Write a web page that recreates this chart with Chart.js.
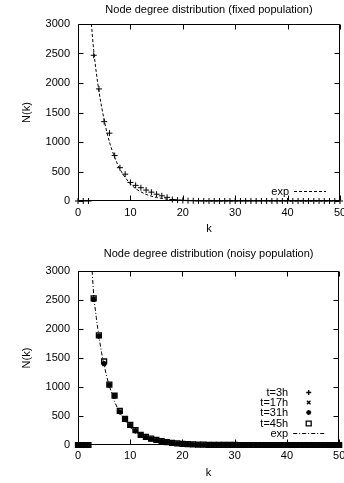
<!DOCTYPE html>
<html>
<head>
<meta charset="utf-8">
<title>Node degree distribution</title>
<script src="https://cdn.jsdelivr.net/npm/chart.js@4.4.1/dist/chart.umd.min.js"></script>
<style>
  body { margin: 0; background: #fff; }
  canvas { position: absolute; left: 0; }
  #fixedChart { top: 0; }
  #noisyChart { top: 240px; }
</style>
</head>
<body>
<canvas id="fixedChart" width="344" height="240"></canvas>
<canvas id="noisyChart" width="344" height="243"></canvas>
<script>
// degree values k (x axis)
const degrees = [0, 1, 2, 3, 4, 5, 6, 7, 8, 9, 10, 11, 12, 13, 14, 15, 16, 17, 18, 19, 20,
  21, 22, 23, 24, 25, 26, 27, 28, 29, 30, 31, 32, 33, 34, 35, 36, 37, 38, 39, 40,
  41, 42, 43, 44, 45, 46, 47, 48, 49, 50];

const xTicks = [0, 10, 20, 30, 40, 50];
const yTicks = [0, 500, 1000, 1500, 2000, 2500, 3000];

// fixed population
const fixedCounts = [0, 0, 0, 2470, 1900, 1345, 1150, 770, 565, 455, 315, 265, 225, 185, 150, 115, 88, 62, 25, 15, 10,
  6, 4, 2, 1, 0, 0, 0, 0, 0, 0, 0, 0, 0, 0, 0, 0, 0, 0, 0, 0,
  0, 0, 0, 0, 0, 0, 0, 0, 0, 0];
const fixedExpK = [2.55, 3, 3.5, 4, 4.5, 5, 5.5, 6, 7, 8, 9, 10, 11, 12, 13, 14, 15, 16, 18, 20, 22, 25, 30, 40, 50];
const fixedExpN = [3000, 2550, 2170, 1860, 1600, 1370, 1170, 1000, 740, 540, 400, 290, 210, 155, 112, 82, 60, 44, 23, 12, 6, 2, 0.4, 0, 0];

// noisy population, one series per snapshot
const noisyLabels = ['t=3h', 't=17h', 't=31h', 't=45h'];
const noisyStyles = ['cross', 'crossRot', 'star', 'rect'];
const counts3h = [0, 0, 0, 2510, 1870, 1400, 1030, 840, 570, 440, 330, 245, 170, 135, 105, 85, 62, 46, 34, 25, 18,
  13, 9, 7, 5, 4, 3, 2, 2, 1, 1, 0, 0, 0, 0, 0, 0, 0, 0, 0, 0,
  0, 0, 0, 0, 0, 0, 0, 0, 0, 0];
const counts17h = [0, 0, 0, 2500, 1880, 1390, 1040, 850, 580, 450, 335, 250, 175, 130, 100, 82, 60, 44, 33, 24, 17,
  12, 9, 6, 5, 3, 3, 2, 1, 1, 1, 0, 0, 0, 0, 0, 0, 0, 0, 0, 0,
  0, 0, 0, 0, 0, 0, 0, 0, 0, 0];
const counts31h = [0, 0, 0, 2520, 1885, 1405, 1035, 845, 575, 445, 340, 240, 168, 132, 108, 84, 64, 47, 35, 26, 19,
  14, 10, 7, 5, 4, 3, 2, 2, 1, 0, 0, 0, 0, 0, 0, 0, 0, 0, 0, 0,
  0, 0, 0, 0, 0, 0, 0, 0, 0, 0];
const counts45h = [0, 0, 0, 2530, 1890, 1440, 1040, 850, 590, 450, 345, 255, 175, 138, 110, 88, 66, 48, 36, 27, 20,
  14, 10, 8, 6, 4, 3, 2, 2, 1, 1, 0, 0, 0, 0, 0, 0, 0, 0, 0, 0,
  0, 0, 0, 0, 0, 0, 0, 0, 0, 0];
const noisyExpK = [2.7, 3, 3.5, 4, 4.5, 5, 5.5, 6, 7, 8, 9, 10, 11, 12, 13, 14, 15, 16, 18, 20, 22, 25, 30, 40, 50];
const noisyExpN = [3000, 2600, 2200, 1880, 1600, 1380, 1180, 1020, 750, 560, 415, 310, 230, 170, 125, 93, 69, 51, 28, 15, 8, 3, 0.5, 0, 0];

const FONT = { family: "'Liberation Sans', Arial, Helvetica, sans-serif", size: 11 };
const fontStr = '11px ' + FONT.family;

function toPoints(xs, ys) {
  return xs.map((x, i) => ({ x: x, y: ys[i] }));
}

// gnuplot-like frame: border box, inward mirrored tics, title and key
const gnuplotFrame = {
  id: 'gnuplotFrame',
  beforeDatasetsDraw(chart) {
    const { ctx, chartArea: a, scales } = chart;
    const L = Math.round(a.left) + 0.5, R = Math.round(a.right) - 0.5;
    const T = Math.round(a.top) + 0.5, B = Math.round(a.bottom) - 0.5;
    const tl = 5;
    ctx.save();
    ctx.strokeStyle = '#000';
    ctx.lineWidth = 1;
    ctx.beginPath();
    ctx.rect(L, T, R - L, B - T);
    scales.x.ticks.forEach(t => {
      const px = Math.round(scales.x.getPixelForValue(t.value)) + 0.5;
      ctx.moveTo(px, B); ctx.lineTo(px, B - tl);
      ctx.moveTo(px, T); ctx.lineTo(px, T + tl);
    });
    scales.y.ticks.forEach(t => {
      const py = Math.round(scales.y.getPixelForValue(t.value)) + 0.5;
      ctx.moveTo(L, py); ctx.lineTo(L + tl, py);
      ctx.moveTo(R, py); ctx.lineTo(R - tl, py);
    });
    ctx.stroke();
    ctx.restore();
  },
  afterDraw(chart, args, opts) {
    const { ctx, chartArea: a } = chart;
    ctx.save();
    ctx.fillStyle = '#000';
    ctx.font = fontStr;
    ctx.textBaseline = 'middle';
    ctx.textAlign = 'center';
    ctx.fillText(opts.title, (a.left + a.right) / 2, opts.titleY);

    // key, bottom right
    const entries = chart.data.datasets.filter(ds => ds.label);
    entries.forEach((ds, i) => {
      const y = Math.round(a.bottom - opts.keyBottom - (entries.length - 1 - i) * 10.3) + 0.5;
      ctx.textAlign = 'right';
      ctx.fillStyle = '#000';
      ctx.fillText(ds.label, a.right - 51, y);
      ctx.strokeStyle = '#000';
      if (ds.showLine) {
        ctx.lineWidth = ds.borderWidth;
        ctx.setLineDash(ds.borderDash || []);
        ctx.beginPath();
        ctx.moveTo(a.right - 46, y);
        ctx.lineTo(a.right - 14, y);
        ctx.stroke();
        ctx.setLineDash([]);
      } else {
        ctx.lineWidth = ds.pointBorderWidth;
        ctx.fillStyle = 'rgba(0,0,0,0)';
        Chart.helpers.drawPoint(ctx, {
          pointStyle: ds.pointStyle, radius: ds.pointRadius, rotation: 0, borderWidth: ds.pointBorderWidth
        }, a.right - 30.5, y);
      }
    });
    ctx.restore();
  }
};

function pointSeries(label, data, style, radius, width) {
  return {
    label: label,
    data: data,
    pointStyle: style,
    pointRadius: radius,
    pointHoverRadius: radius,
    pointBorderWidth: width,
    pointBorderColor: '#000',
    pointBackgroundColor: 'rgba(0,0,0,0)',
    showLine: false,
    clip: false
  };
}

function expSeries(data, dash) {
  return {
    label: 'exp',
    data: data,
    showLine: true,
    borderColor: '#000',
    borderWidth: 1,
    borderDash: dash,
    pointRadius: 0,
    cubicInterpolationMode: 'monotone',
    clip: false
  };
}

function makeChart(canvas, datasets, cfg) {
  return new Chart(canvas, {
    type: 'scatter',
    data: { datasets: datasets },
    options: {
      responsive: false,
      animation: false,
      events: [],
      layout: { padding: { top: cfg.padTop, right: 2, left: 0, bottom: 0 } },
      plugins: {
        legend: { display: false },
        tooltip: { enabled: false },
        gnuplotFrame: { title: cfg.title, titleY: cfg.titleY, keyBottom: cfg.keyBottom }
      },
      scales: {
        x: {
          type: 'linear',
          min: xTicks[0],
          max: xTicks[xTicks.length - 1],
          grid: { display: false, drawTicks: false },
          border: { display: false },
          ticks: {
            stepSize: xTicks[1] - xTicks[0], padding: cfg.xTickPad, color: '#000', font: FONT, maxRotation: 0,
            callback: v => String(v)
          },
          title: { display: true, text: 'k', color: '#000', font: FONT, padding: { top: 0, bottom: cfg.xTitlePad } },
          afterFit(s) { s.height = cfg.xHeight; s.paddingLeft = 0; s.paddingRight = 0; }
        },
        y: {
          type: 'linear',
          min: yTicks[0],
          max: yTicks[yTicks.length - 1],
          grid: { display: false, drawTicks: false },
          border: { display: false },
          ticks: { stepSize: yTicks[1] - yTicks[0], padding: 8, color: '#000', font: FONT, callback: v => String(v) },
          title: { display: true, text: 'N(k)', color: '#000', font: FONT, padding: { top: 19.9, bottom: 0 } },
          afterFit(s) { s.width = 78; s.paddingTop = 0; s.paddingBottom = 0; }
        }
      }
    },
    plugins: [gnuplotFrame]
  });
}

makeChart(document.getElementById('fixedChart'), [
  pointSeries('', toPoints(degrees, fixedCounts), 'cross', 3, 1),
  expSeries(toPoints(fixedExpK, fixedExpN), [3, 2])
], {
  title: 'Node degree distribution (fixed population)', titleY: 10,
  padTop: 24, xHeight: 39, xTickPad: 5.5, xTitlePad: 4.4, keyBottom: 10
});

const noisyCounts = [counts3h, counts17h, counts31h, counts45h];
makeChart(document.getElementById('noisyChart'), [
  ...noisyCounts.map((c, i) => pointSeries(noisyLabels[i], toPoints(degrees, c), noisyStyles[i], i === 3 ? 3.5 : 2.5, 1.3)),
  expSeries(toPoints(noisyExpK, noisyExpN), [4, 2, 1, 2])
], {
  title: 'Node degree distribution (noisy population)', titleY: 14,
  padTop: 31, xHeight: 38, xTickPad: 4.4, xTitlePad: 3.4, keyBottom: 12
});
</script>
</body>
</html>
